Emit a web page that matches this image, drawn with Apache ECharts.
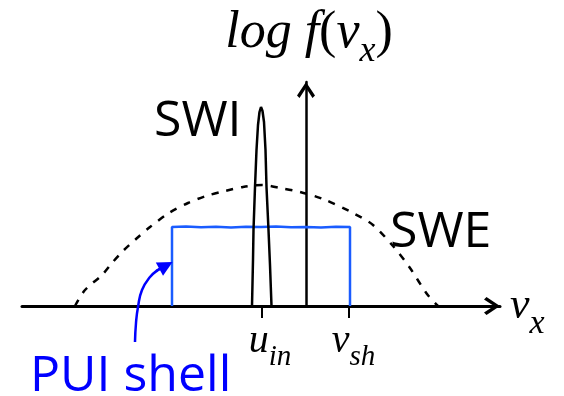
<!DOCTYPE html>
<html><head><meta charset="utf-8">
<script src="https://cdn.jsdelivr.net/npm/echarts@6/dist/echarts.min.js"></script>
<style>html,body{margin:0;padding:0;background:#fff}#c{width:564px;height:396px}</style>
</head><body><div id="c"></div>
<script>
// Velocity along x (arbitrary units, 0 at the vertical axis) and log f (arbitrary units)
const tickValues = [-4.4, 4.3];
const tickMain = ['u', 'v'];
const tickSub = ['in', 'sh'];

// SWE: solar-wind electrons (dashed)
const sweX = [-23.1,-22.1,-20.4,-19.4,-18.3,-17.0,-15.6,-13.7,-11.8,-10.0,-8.1,-6.3,-4.4,-2.6,-0.6,1.7,4.7,6.7,8.7,10.4,12.1,13.2];
const sweY = [0,1.6,3.1,4.3,5.5,6.7,7.9,9.3,10.3,11.0,11.5,11.9,12.1,11.8,11.4,10.7,9.3,8.1,6.0,3.8,1.2,0];

// SWI: solar-wind ions (narrow peak)
const swiX = [-5.4,-5.3,-5.25,-5.1,-4.95,-4.8,-4.65,-4.5,-4.35,-4.2,-4.05,-3.95,-3.75,-3.6,-3.45];
const swiY = [0,4.6,7.6,11.9,15.6,18.1,19.4,19.9,19.5,18.4,15.6,11.9,7.6,4.1,0];

// PUI shell (flat-top box)
const puiX = [-13.4,-13.4,-12.0,-10.5,-9.0,-7.5,-6.0,-4.5,-3.0,-1.5,0,1.5,3.0,4.4,4.4];
const puiY = [0,7.9,7.95,7.88,7.93,7.86,7.92,7.89,7.95,7.87,7.91,7.85,7.92,7.9,0];

// Annotation arrow pointing to the PUI shell
const arrowX = [-17.1,-17.0,-16.8,-16.4,-15.6,-14.8,-14.2];
const arrowY = [-3.6,-1.7,-0.1,1.6,2.9,3.6,3.95];
const arrowHead = [[-15.0,3.5],[-14.0,4.05]];

const annText = ['SWI', 'SWE', 'PUI shell'];

const zip = (xs, ys) => xs.map((x, i) => [x, ys[i]]);
const serif = 'Liberation Serif';
const sans = 'Open Sans';
const chevron = 'path://M0,13.5 L9,0 L18,13.5 L15.5,16 L9,6 L2.5,16 Z';

const chart = echarts.init(document.getElementById('c'), null, {renderer: 'canvas'});
const option = {
  animation: false,
  backgroundColor: '#fff',
  grid: {left: 22, right: 64, top: 82, bottom: 90, containLabel: false, outerBoundsMode: 'none'},
  xAxis: {
    type: 'value', min: -28.4, max: 19.4,
    splitLine: {show: false},
    axisLine: {show: true, onZero: true, lineStyle: {color: '#000', width: 3},
      symbol: ['none', chevron], symbolSize: [18, 16], symbolOffset: [0, -8]},
    axisTick: {show: true, customValues: tickValues, length: 12, lineStyle: {color: '#000', width: 2}},
    axisLabel: {
      show: true, customValues: tickValues, margin: 15.5, color: '#000',
      formatter: function (val) {
        const i = tickValues.findIndex(t => Math.abs(t - val) < 1e-6);
        if (i < 0) return '';
        return '{m' + i + '|' + tickMain[i] + '}{s|' + tickSub[i] + '}';
      },
      rich: {
        m0: {fontFamily: serif, fontStyle: 'italic', fontSize: 40, color: '#000', verticalAlign: 'top', padding: [0, 0, 0, 16]},
        m1: {fontFamily: serif, fontStyle: 'italic', fontSize: 40, color: '#000', verticalAlign: 'top', padding: [0, 0, 0, 9]},
        s: {fontFamily: serif, fontStyle: 'italic', fontSize: 29, color: '#000', verticalAlign: 'top', padding: [21, 0, 0, 0]}
      }
    },
    name: '{v|v}{x|x}', nameLocation: 'end', nameGap: 10,
    nameTextStyle: {
      rich: {
        v: {fontFamily: serif, fontStyle: 'italic', fontSize: 44, color: '#000', verticalAlign: 'top', padding: [13.7, 0, 0, 0]},
        x: {fontFamily: serif, fontStyle: 'italic', fontSize: 34, color: '#000', verticalAlign: 'top', padding: [37, 0, 0, 0]}
      }
    }
  },
  yAxis: {
    type: 'value', min: 0, max: 22.4,
    splitLine: {show: false}, axisTick: {show: false}, axisLabel: {show: false},
    axisLine: {show: true, onZero: true, lineStyle: {color: '#000', width: 2.5},
      symbol: ['none', chevron], symbolSize: [18, 16], symbolOffset: [0, -8]},
    name: '{a|log f}{b|(}{a|v}{c|x}{b|)}', nameLocation: 'end', nameGap: 12.5,
    nameTextStyle: {
      padding: [0, 0, 0, 6],
      rich: {
        a: {fontFamily: serif, fontStyle: 'italic', fontSize: 52, color: '#000', verticalAlign: 'top'},
        b: {fontFamily: serif, fontStyle: 'normal', fontSize: 52, color: '#000', verticalAlign: 'top'},
        c: {fontFamily: serif, fontStyle: 'italic', fontSize: 36, color: '#000', verticalAlign: 'top', padding: [25.75, 0, 0, 0]}
      }
    }
  },
  series: [
    {name: 'SWE', type: 'line', data: zip(sweX, sweY), symbol: 'none', smooth: 0.3,
     lineStyle: {color: '#000', width: 2.5, type: [7, 8]}, z: 3},
    {name: 'SWI', type: 'line', data: zip(swiX, swiY), symbol: 'none',
     lineStyle: {color: '#000', width: 2.5}, z: 3},
    {name: 'PUI shell', type: 'line', data: zip(puiX, puiY), symbol: 'none',
     lineStyle: {color: '#1a5cff', width: 2.5}, z: 2},
    {name: 'arrow', type: 'line', data: zip(arrowX, arrowY), symbol: 'none', smooth: 0.5, clip: false,
     lineStyle: {color: '#0000ff', width: 2.5}, z: 4},
    {name: 'arrowhead', type: 'lines', coordinateSystem: 'cartesian2d', clip: false,
     data: [{coords: arrowHead}], symbol: ['none', 'triangle'], symbolSize: [12, 15],
     lineStyle: {color: '#0000ff', width: 2.5, opacity: 1}, z: 4},
    {name: 'labels', type: 'scatter', clip: false, symbolSize: 1, itemStyle: {color: 'rgba(0,0,0,0)', opacity: 1},
     label: {show: true, position: [0, 0], align: 'left', verticalAlign: 'middle', opacity: 1,
       fontFamily: sans, fontSize: 50, formatter: p => p.name},
     data: [
       {name: annText[0], value: [-15.15, 18.36], label: {color: '#000'}},
       {name: annText[1], value: [8.45, 7.26], label: {color: '#000'}},
       {name: annText[2], value: [-27.55, -7.14], label: {color: '#0000ff'}}
     ], z: 5}
  ]
};
chart.setOption(option);
</script>
</body></html>
